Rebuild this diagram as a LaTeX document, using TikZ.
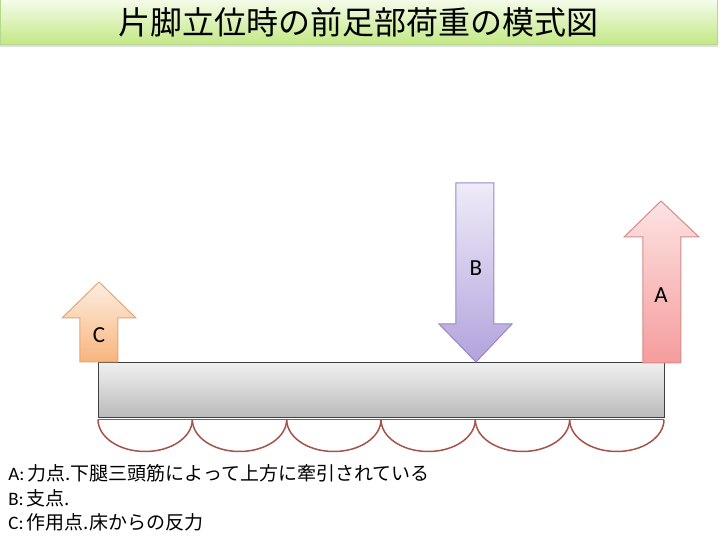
\documentclass[tikz,border=0pt]{standalone}
\usepackage{fontspec}
\newfontfamily\jpfont{Noto Sans CJK JP}
\newfontfamily\latinfont{Carlito}
\definecolor{titletop}{RGB}{244, 251, 232}
\definecolor{titlebot}{RGB}{194, 232, 132}
\definecolor{titleline}{RGB}{180, 216, 140}
\definecolor{ctop}{RGB}{253, 238, 226}
\definecolor{cbot}{RGB}{248, 180, 124}
\definecolor{cline}{RGB}{227, 166, 118}
\definecolor{btop}{RGB}{239, 235, 248}
\definecolor{bbot}{RGB}{178, 163, 221}
\definecolor{bline}{RGB}{152, 135, 198}
\definecolor{atop}{RGB}{253, 227, 227}
\definecolor{abot}{RGB}{245, 156, 156}
\definecolor{aline}{RGB}{214, 138, 138}
\definecolor{padline}{RGB}{165, 82, 74}
\usetikzlibrary{positioning, shadows}

\begin{document}
\begin{tikzpicture}[x=0.5pt, y=-0.5pt,
    titlebar/.style={draw=titleline, top color=titletop, bottom color=titlebot, line width=0.5pt,
      minimum width=359pt, minimum height=22.5pt, inner sep=0pt, font=\jpfont\fontsize{16}{18}\selectfont,
      drop shadow={opacity=0.25, shadow xshift=0pt, shadow yshift=-1.2pt}},
    beambox/.style={draw=black!75, top color=black!6, bottom color=black!27, line width=0.5pt,
      minimum width=283pt, minimum height=27.5pt, inner sep=0pt},
    force/.style={line width=0.5pt, line join=miter},
    letter/.style={font=\latinfont\fontsize{11.5}{13}\selectfont},
    legend/.style={anchor=west, inner sep=0pt, font=\jpfont\fontsize{9.5}{11}\selectfont}]
  \useasboundingbox (0,0) rectangle (720,540);

  % title
  \node[titlebar] (title) at (359,22.5) {片脚立位時の前足部荷重の模式図};

  % beam and fat pads
  \node[beambox, anchor=north west] (beam) at (98,362) {};
  \draw[padline, line width=0.75pt] (98,419.5) -- (664,419.5);
  \foreach \k in {0,...,5}
    \draw[padline, line width=0.75pt] (98+94.33*\k,419.5) arc[start angle=180, end angle=0, x radius=47.17, y radius=32];

  % C: reaction from the floor
  \draw[force, draw=cline, top color=ctop, bottom color=cbot]
    (99,282) -- (136,318) -- (118,318) -- (118,362) -- (80,362) -- (80,318) -- (62,318) -- cycle;
  \node[letter] (labC) at (99,335) {C};

  % B: fulcrum
  \draw[force, draw=bline, top color=btop, bottom color=bbot]
    (456,183) -- (494,183) -- (494,324) -- (512,324) -- (476,362) -- (439,324) -- (456,324) -- cycle;
  \node[letter] (labB) at (476,268) {B};

  % A: pull of the triceps surae
  \draw[force, draw=aline, top color=atop, bottom color=abot]
    (661,201) -- (699,237) -- (681,237) -- (681,363) -- (643,363) -- (643,237) -- (624,237) -- cycle;
  \node[letter] (labA) at (661,295) {A};

  % legend
  \node[legend] (legA) at (8,473) {{\latinfont A:\,}力点.下腿三頭筋によって上方に牽引されている};
  \node[legend] (legB) at (8,498) {{\latinfont B:\,}支点.};
  \node[legend] (legC) at (8,522) {{\latinfont C:\,}作用点.床からの反力};
\end{tikzpicture}
\end{document}
